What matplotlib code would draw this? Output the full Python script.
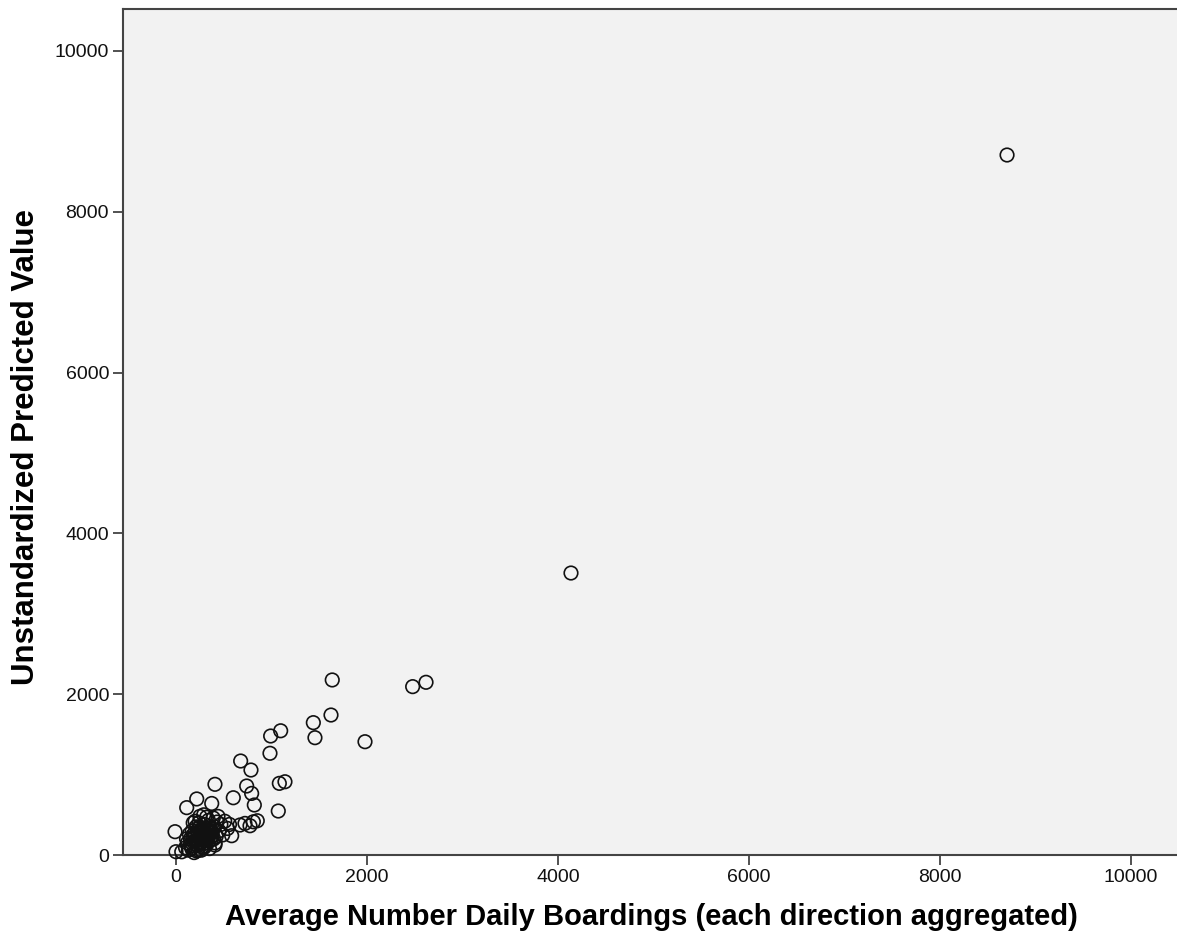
import matplotlib
matplotlib.use("Agg")
import matplotlib.pyplot as plt

plt.rcParams["font.family"] = ["Liberation Sans", "DejaVu Sans"]

boardings = [1636, 2478, 2618, 1623, 1438, 1455, 1979, 1096, 991, 984,
             677, 785, 408, 740, 1082, 1141, 792, 600, 820, 217,
             112, 374, 1071, 851, 775, 583, -10, 0, 408, 4136, 8702,
             60, 100, 120, 130, 150, 160, 170, 180, 190, 200,
             210, 220, 230, 240, 250, 260, 270, 280, 290, 300,
             310, 320, 330, 340, 350, 360, 370, 380, 390, 400,
             420, 430, 450, 470, 490, 510, 540, 560, 250, 200,
             290, 140, 110, 230, 270, 320, 350, 180, 410, 440,
             722, 670, 810,
             150, 175, 195, 215, 235, 255, 275, 295, 315, 335,
             355, 375, 395, 165, 185, 205, 225, 245, 265, 285,
             305, 325, 345, 365, 385, 245, 265, 285, 305, 215]
predicted = [2177, 2094, 2148, 1741, 1646, 1459, 1409, 1545, 1480, 1265,
             1169, 1057, 879, 858, 891, 911, 766, 712, 622, 697,
             589, 641, 547, 426, 364, 240, 290, 41, 124, 3507, 8706,
             40, 90, 150, 60, 200, 110, 300, 250, 30, 180,
             350, 120, 280, 400, 220, 160, 320, 260, 90, 380,
             200, 300, 150, 430, 250, 340, 190, 280, 460, 350,
             230, 410, 300, 380, 250, 420, 330, 380, 480, 420,
             500, 260, 200, 60, 100, 470, 80, 400, 150, 480,
             393, 373, 413,
             130, 210, 270, 180, 330, 290, 230, 170, 260, 210,
             310, 240, 200, 80, 160, 240, 300, 140, 200, 330,
             250, 190, 290, 220, 320, 350, 60, 140, 110, 50]

xticks = [0, 2000, 4000, 6000, 8000, 10000]
yticks = [0, 2000, 4000, 6000, 8000, 10000]

W, H = 1177, 947
fig = plt.figure(figsize=(W / 100, H / 100), dpi=100)
ax = fig.add_axes([123 / W, (H - 855) / H, (1180 - 123) / W, (855 - 9) / H])
ax.set_facecolor("#f2f2f2")

ax.scatter(boardings, predicted, s=95, facecolors="none", edgecolors="#111111",
           linewidths=1.2, clip_on=False, zorder=3)

ax.set_xlim(-555, 10513)
ax.set_ylim(0, 10522)
ax.set_xticks(xticks)
ax.set_yticks(yticks)
ax.tick_params(direction="out", length=7, width=1.2, color="#333333",
               labelsize=14, labelcolor="#111111", pad=3)
for side in ["left", "bottom", "top"]:
    ax.spines[side].set_color("#444444")
    ax.spines[side].set_linewidth(1.5)
ax.spines["right"].set_visible(False)

ax.set_xlabel("Average Number Daily Boardings (each direction aggregated)",
              fontsize=21, fontweight="bold", labelpad=12)
ax.set_ylabel("Unstandardized Predicted Value", fontsize=22.5, fontweight="bold")
ax.yaxis.set_label_coords(-0.078, 0.482)

fig.savefig("out.png", dpi=100)
